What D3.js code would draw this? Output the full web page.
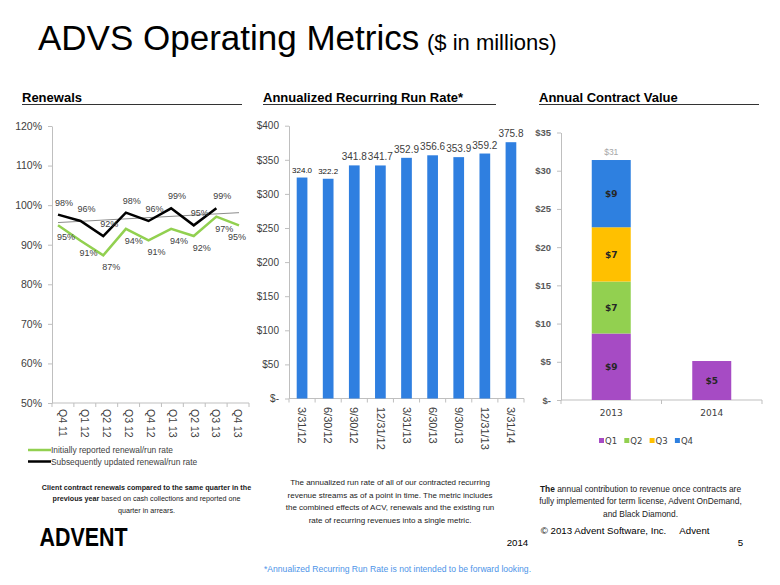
<!DOCTYPE html>
<html><head><meta charset="utf-8">
<script src="https://cdn.jsdelivr.net/npm/d3@7"></script>
<style>
body{margin:0;background:#fff;}
svg{display:block;}
</style></head>
<body><svg id="c" width="780" height="585"></svg>
<script>
// ---------- DATA ----------
const renewQuarters = ["Q4 11","Q1 12","Q2 12","Q3 12","Q4 12","Q1 13","Q2 13","Q3 13","Q4 13"];
const initialRates  = [94.9, 91.0, 87.3, 94.0, 91.1, 94.0, 92.2, 97.1, 94.9];
const updatedRates  = [97.6, 96.0, 92.2, 98.1, 96.0, 99.2, 94.9, 99.2];
const trendEnds     = [95.6, 98.1];
const renewTicks    = [50, 60, 70, 80, 90, 100, 110, 120];

const runRateDates  = ["3/31/12","6/30/12","9/30/12","12/31/12","3/31/13","6/30/13","9/30/13","12/31/13","3/31/14"];
const runRateValues = [324.0, 322.2, 341.8, 341.7, 352.9, 356.6, 353.9, 359.2, 375.8];
const runRateTicks  = [0, 50, 100, 150, 200, 250, 300, 350, 400];

const acvYears = ["2013","2014"];
const acvQ1 = [8.7, 5.1];
const acvQ2 = [6.8, 0];
const acvQ3 = [7.1, 0];
const acvQ4 = [8.8, 0];
const acvSeriesNames = ["Q1","Q2","Q3","Q4"];
const acvTicks = [0, 5, 10, 15, 20, 25, 30, 35];

// ---------- SETUP ----------
const svg = d3.select("#c");
const ARIAL = "'Liberation Sans', Arial, sans-serif";
const DEJA = "'DejaVu Sans', Verdana, sans-serif";
const axisCol = "#bfbfbf", txtCol = "#404040";

// Title
svg.append("text").attr("x",38).attr("y",50).attr("font-family",ARIAL).attr("font-size",35)
  .attr("fill","#000").text("ADVS Operating Metrics");
svg.append("text").attr("x",427).attr("y",50).attr("font-family",ARIAL).attr("font-size",22)
  .attr("fill","#000").text("($ in millions)");

// Section headers
function header(x, x2, text){
  svg.append("text").attr("x",x).attr("y",102).attr("font-family",ARIAL).attr("font-size",13)
    .attr("font-weight","bold").attr("fill","#000").text(text);
  svg.append("line").attr("x1",x).attr("x2",x2).attr("y1",104.5).attr("y2",104.5)
    .attr("stroke","#333").attr("stroke-width",1);
}
header(22, 242, "Renewals");
header(263, 496, "Annualized Recurring Run Rate*");
header(539, 759, "Annual Contract Value");

// Band-axis helper (ticks at band boundaries)
function bandAxis(band, y, tickLen){
  const g = svg.append("g");
  const r = band.range();
  g.append("line").attr("x1",r[0]).attr("x2",r[1]).attr("y1",y).attr("y2",y)
    .attr("stroke",axisCol).attr("stroke-width",1);
  const step = band.step();
  const n = band.domain().length;
  const x0 = r[0];
  g.selectAll("line.t").data(d3.range(n+1)).join("line").attr("class","t")
    .attr("x1",i=>x0+i*step).attr("x2",i=>x0+i*step).attr("y1",y).attr("y2",y+tickLen)
    .attr("stroke",axisCol);
  return g;
}
function leftAxis(scale, x, ticks, fmt, font, size, col, weight){
  const g = svg.append("g").attr("transform",`translate(${x},0)`)
    .call(d3.axisLeft(scale).tickValues(ticks).tickFormat(fmt).tickSize(4).tickSizeOuter(0).tickPadding(6));
  g.select(".domain").attr("stroke",axisCol);
  g.selectAll(".tick line").attr("stroke",axisCol);
  g.selectAll(".tick text").attr("font-family",font).attr("font-size",size).attr("fill",col)
    .attr("font-weight",weight||"normal");
  return g;
}

// ---------- LEFT: RENEWALS ----------
const yL = d3.scaleLinear().domain([50,120]).range([403,126]);
const xLBand = d3.scaleBand().domain(renewQuarters).range([52,249]);
const xLPt = d3.scalePoint().domain(renewQuarters).range([58,239]);

leftAxis(yL, 52, renewTicks, d=>d+"%", ARIAL, 10.5, txtCol);
bandAxis(xLBand, 403, 4);
svg.append("g").selectAll("text").data(renewQuarters).join("text")
  .attr("transform",d=>`translate(${xLBand(d)+xLBand.bandwidth()/2},409) rotate(90)`)
  .attr("dy","0.35em").attr("font-family",ARIAL).attr("font-size",10.5).attr("fill",txtCol)
  .text(d=>d);

// trendline
svg.append("line")
  .attr("x1",xLPt(renewQuarters[0])).attr("x2",xLPt(renewQuarters[renewQuarters.length-1]))
  .attr("y1",yL(trendEnds[0])).attr("y2",yL(trendEnds[1]))
  .attr("stroke","#8c8c8c").attr("stroke-width",1);

const lineL = d3.line().x((d,i)=>xLPt(renewQuarters[i])).y(d=>yL(d));
svg.append("path").datum(initialRates).attr("d",lineL).attr("fill","none")
  .attr("stroke","#92D050").attr("stroke-width",2.5);
svg.append("path").datum(updatedRates).attr("d",lineL).attr("fill","none")
  .attr("stroke","#000").attr("stroke-width",2.5);

svg.append("g").selectAll("text").data(updatedRates).join("text")
  .attr("x",(d,i)=>xLPt(renewQuarters[i])+6).attr("y",d=>yL(d)-9)
  .attr("text-anchor","middle").attr("font-family",ARIAL).attr("font-size",9).attr("fill",txtCol)
  .text(d=>Math.round(d)+"%");
svg.append("g").selectAll("text").data(initialRates).join("text")
  .attr("x",(d,i)=>xLPt(renewQuarters[i])+(i==initialRates.length-1?-2:8)).attr("y",d=>yL(d)+15)
  .attr("text-anchor","middle").attr("font-family",ARIAL).attr("font-size",9).attr("fill",txtCol)
  .text(d=>Math.round(d)+"%");

// legend
const legL = [["#92D050","Initially reported renewal/run rate",450],["#000","Subsequently updated renewal/run rate",461.5]];
legL.forEach(([c,t,y])=>{
  svg.append("line").attr("x1",28).attr("x2",51).attr("y1",y).attr("y2",y).attr("stroke",c).attr("stroke-width",2.5);
  svg.append("text").attr("x",51).attr("y",y+3).attr("font-family",ARIAL).attr("font-size",8.4)
    .attr("fill",txtCol).text(t);
});

// captions
function caption(cx, y0, lh, size, lines, col){
  lines.forEach((parts,i)=>{
    const t = svg.append("text").attr("x",cx).attr("y",y0+i*lh).attr("text-anchor","middle")
      .attr("font-family",ARIAL).attr("font-size",size).attr("fill",col||"#000");
    parts.forEach(([s,b])=>t.append("tspan").attr("font-weight",b?"bold":"normal").text(s));
  });
}
caption(146.5, 490, 11.3, 7.2, [
  [["Client contract renewals compared to the same quarter in the",1]],
  [["previous year",1],[" based on cash collections and reported one",0]],
  [["quarter in arrears.",0]]
], "#1a1a1a");

// ---------- MIDDLE: RUN RATE ----------
const yM = d3.scaleLinear().domain([0,400]).range([398.5,125.7]);
const xM = d3.scaleBand().domain(runRateDates).range([289,524]).paddingInner(0.59).paddingOuter(0.295);
const xMBand = d3.scaleBand().domain(runRateDates).range([289,524]);

leftAxis(yM, 289, runRateTicks, d=>d===0?"$-":"$"+d, ARIAL, 10, txtCol);
bandAxis(xMBand, 398.5, 4);
svg.append("g").selectAll("rect").data(runRateValues).join("rect")
  .attr("x",(d,i)=>xM(runRateDates[i])).attr("width",xM.bandwidth())
  .attr("y",d=>yM(d)).attr("height",d=>yM(0)-yM(d)).attr("fill","#2F7FE0");
svg.append("g").selectAll("text").data(runRateValues).join("text")
  .attr("x",(d,i)=>xM(runRateDates[i])+xM.bandwidth()/2).attr("y",d=>yM(d)-5)
  .attr("text-anchor","middle").attr("font-family",ARIAL)
  .attr("font-size",(d,i)=>i<2?8:10).attr("fill",(d,i)=>i<2?"#111":txtCol)
  .text(d=>d.toFixed(1));
svg.append("g").selectAll("text").data(runRateDates).join("text")
  .attr("transform",d=>`translate(${xMBand(d)+xMBand.bandwidth()/2},407) rotate(90)`)
  .attr("dy","0.35em").attr("font-family",ARIAL).attr("font-size",11).attr("fill",txtCol)
  .text(d=>d);
caption(390, 485, 12.5, 8, [
  [["The annualized run rate of all of our contracted recurring",0]],
  [["revenue streams as of a point in time. The metric includes",0]],
  [["the combined effects of ACV, renewals and the existing run",0]],
  [["rate of recurring revenues into a single metric.",0]]
], "#1a1a1a");

// ---------- RIGHT: ACV ----------
const yR = d3.scaleLinear().domain([0,35]).range([400,132.5]);
const xR = d3.scaleBand().domain(acvYears).range([561,762]).paddingInner(0.612).paddingOuter(0.306);
const xRBand = d3.scaleBand().domain(acvYears).range([561,762]);
const acvColors = ["#A64BC4","#92D050","#FFC000","#2E80E0"];

leftAxis(yR, 561, acvTicks, d=>d===0?"$-":"$"+d, ARIAL, 9.5, "#595959", "bold");
bandAxis(xRBand, 400, 4);

const acvRows = acvYears.map((y,i)=>({year:y, Q1:acvQ1[i], Q2:acvQ2[i], Q3:acvQ3[i], Q4:acvQ4[i]}));
const stack = d3.stack().keys(acvSeriesNames)(acvRows);
const gS = svg.append("g");
stack.forEach((layer,k)=>{
  layer.forEach(seg=>{
    if(seg[1]-seg[0] <= 0) return;
    gS.append("rect").attr("x",xR(seg.data.year)).attr("width",xR.bandwidth())
      .attr("y",yR(seg[1])).attr("height",yR(seg[0])-yR(seg[1])).attr("fill",acvColors[k]);
    gS.append("text").attr("x",xR(seg.data.year)+xR.bandwidth()/2).attr("y",(yR(seg[0])+yR(seg[1]))/2)
      .attr("dy","0.35em").attr("text-anchor","middle").attr("font-family",DEJA).attr("font-size",9)
      .attr("font-weight","bold").attr("fill","#262626").text("$"+Math.round(seg[1]-seg[0]));
  });
});
acvRows.forEach(r=>{
  const vals = acvSeriesNames.map(k=>r[k]);
  if(vals.filter(v=>v>0).length>1){
    const tot = d3.sum(vals);
    svg.append("text").attr("x",xR(r.year)+xR.bandwidth()/2).attr("y",yR(tot)-5)
      .attr("text-anchor","middle").attr("font-family",ARIAL).attr("font-size",8.5)
      .attr("fill","#a6a6a6").text("$"+Math.round(tot));
  }
});
svg.append("g").selectAll("text").data(acvYears).join("text")
  .attr("x",d=>xRBand(d)+xRBand.bandwidth()/2).attr("y",415.5).attr("text-anchor","middle")
  .attr("font-family",DEJA).attr("font-size",9).attr("fill",txtCol).text(d=>d);
// legend
const legR = svg.append("g");
acvSeriesNames.forEach((n,i)=>{
  const x = 599 + i*25.3;
  legR.append("rect").attr("x",x).attr("y",438).attr("width",5).attr("height",5).attr("fill",acvColors[i]);
  legR.append("text").attr("x",x+6).attr("y",444).attr("font-family",DEJA).attr("font-size",8.5)
    .attr("fill",txtCol).text(n);
});
caption(640.5, 491.5, 12.5, 8.4, [
  [["The",1],[" annual contribution to revenue once contracts are",0]],
  [["fully implemented for term license, Advent OnDemand,",0]],
  [["and Black Diamond.",0]]
], "#1a1a1a");

// ---------- FOOTER ----------
svg.append("text").attr("x",39.5).attr("y",545.5).attr("font-family",ARIAL).attr("font-size",25)
  .attr("font-weight","bold").attr("textLength",88).attr("lengthAdjust","spacingAndGlyphs")
  .attr("fill","#000").text("ADVENT");
svg.append("text").attr("x",540.7).attr("y",534).attr("font-family",ARIAL).attr("font-size",9.7)
  .attr("fill","#000").text("© 2013 Advent Software, Inc.");
svg.append("text").attr("x",679.3).attr("y",534).attr("font-family",ARIAL).attr("font-size",9.7)
  .attr("fill","#000").text("Advent");
svg.append("text").attr("x",506.7).attr("y",545.7).attr("font-family",ARIAL).attr("font-size",9.7)
  .attr("fill","#000").text("2014");
svg.append("text").attr("x",737.7).attr("y",545.7).attr("font-family",ARIAL).attr("font-size",9.7)
  .attr("fill","#000").text("5");
svg.append("text").attr("x",397.5).attr("y",572).attr("text-anchor","middle").attr("font-family",ARIAL)
  .attr("font-size",8.6).attr("fill","#4d94e8")
  .text("*Annualized Recurring Run Rate is not intended to be forward looking.");
</script></body></html>
